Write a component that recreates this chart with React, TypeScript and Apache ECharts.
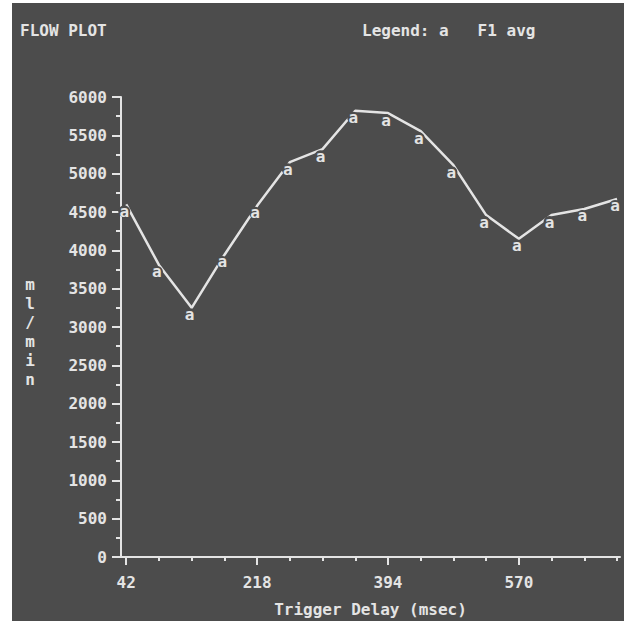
import React, { useEffect, useRef } from "react";
import * as echarts from "echarts";

const xValues = [42, 86, 130, 174, 218, 262, 306, 350, 394, 438, 482, 526, 570, 614, 658, 702];
const flowValues = [4600, 3810, 3250, 3940, 4580, 5150, 5320, 5820, 5790, 5555, 5110, 4460, 4150, 4460, 4540, 4670];
const xTickValues = [42, 86, 130, 174, 218, 262, 306, 350, 394, 438, 482, 526, 570, 614, 658, 702];
const xLabelValues = [42, 218, 394, 570];

const BG = "#4c4c4c";
const FG = "#e4e4e4";
const FONT = "'DejaVu Sans Mono', monospace";

export default function App() {
  const ref = useRef<HTMLDivElement>(null);
  useEffect(() => {
    if (!ref.current) return;
    const chart = echarts.init(ref.current, null, { renderer: "svg" });
    const data = xValues.map((x, i) => [x, flowValues[i]]);
    const textStyle = { color: FG, fontFamily: FONT, fontSize: 16, fontWeight: "bold" as const };
    chart.setOption({
      animation: false,
      backgroundColor: BG,
      grid: { left: 109, right: 4, top: 94, bottom: 64, containLabel: false, outerBoundsMode: "none" },
      graphic: [
        { type: "text", left: 8, top: 19, style: { text: "FLOW PLOT", fill: FG, font: `bold 16px ${FONT}` } },
        { type: "text", left: 350, top: 19, style: { text: "Legend: a   F1 avg", fill: FG, font: `bold 16px ${FONT}` } },
        {
          type: "text",
          x: 18,
          y: 272,
          style: { text: "m\nl\n/\nm\ni\nn", fill: FG, font: `bold 16px ${FONT}`, align: "center", lineHeight: 19 },
        },
      ],
      xAxis: [
        {
          type: "value",
          min: 35,
          max: 706,
          position: "bottom",
          offset: 0,
          axisLine: { show: true, lineStyle: { color: FG, width: 2 } },
          axisTick: { show: true, customValues: xTickValues, length: 4, lineStyle: { color: FG, width: 2 } },
          axisLabel: { show: false },
          splitLine: { show: false },
        },
        {
          type: "value",
          min: 35,
          max: 706,
          position: "bottom",
          offset: 0,
          axisLine: { show: false },
          axisTick: { show: true, customValues: xLabelValues, length: 8, lineStyle: { color: FG, width: 2 } },
          axisLabel: { show: true, customValues: xLabelValues, margin: 17, formatter: (v: number) => String(v), ...textStyle },
          splitLine: { show: false },
          name: "Trigger Delay (msec)",
          nameLocation: "middle",
          nameGap: 44,
          nameTextStyle: textStyle,
        },
      ],
      yAxis: {
        type: "value",
        min: 0,
        max: 6000,
        interval: 500,
        axisLine: { show: true, lineStyle: { color: FG, width: 2 } },
        axisTick: { show: true, length: 9, lineStyle: { color: FG, width: 2 } },
        minorTick: { show: true, splitNumber: 2, length: 5, lineStyle: { color: FG, width: 2 } },
        axisLabel: { margin: 14, formatter: (v: number) => String(v), ...textStyle },
        splitLine: { show: false },
      },
      series: [
        {
          type: "line",
          xAxisIndex: 0,
          data,
          lineStyle: { color: FG, width: 2.5 },
          symbol: "circle",
          symbolSize: 12,
          symbolOffset: [-2, 7],
          itemStyle: { color: BG, borderWidth: 0 },
          label: {
            show: true,
            position: "inside",
            formatter: "a",
            ...textStyle,
          },
        },
      ],
    });
    return () => chart.dispose();
  }, []);
  return (
    <div style={{ position: "fixed", left: 0, top: 0, width: 626, height: 624, background: "#ffffff" }}>
      <div ref={ref} style={{ position: "absolute", left: 12, top: 3, width: 612, height: 618 }} />
    </div>
  );
}
